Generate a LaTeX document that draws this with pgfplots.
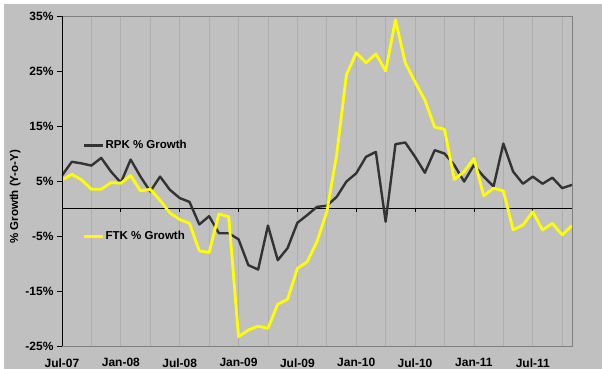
\documentclass[border=0pt]{standalone}
\usepackage{pgfplots}
\pgfplotsset{compat=1.18}
\usepackage{pgfplotstable}
\usepackage{fontspec}
\setmainfont{Liberation Sans}
\definecolor{bg}{HTML}{C0C0C0}
\definecolor{gridc}{HTML}{AEAEAE}
\definecolor{rpk}{HTML}{333333}
\definecolor{ftk}{HTML}{FFFF00}
\definecolor{framec}{HTML}{808080}

\pgfplotstableread{
i rpk ftk
0 6.0 5.2
1 8.5 6.2
2 8.2 5.2
3 7.8 3.5
4 9.2 3.5
5 6.7 4.7
6 4.7 4.6
7 8.9 6.0
8 5.8 3.2
9 3.1 3.5
10 5.8 1.5
11 3.4 -0.8
12 1.9 -2.0
13 1.2 -2.7
14 -2.9 -7.7
15 -1.4 -8.0
16 -4.5 -1.0
17 -4.5 -1.5
18 -5.6 -23.3
19 -10.3 -22.1
20 -11.1 -21.4
21 -3.1 -21.8
22 -9.4 -17.4
23 -7.2 -16.5
24 -2.6 -10.9
25 -1.2 -9.7
26 0.3 -6.0
27 0.5 -0.6
28 2.1 9.7
29 4.9 24.3
30 6.4 28.3
31 9.4 26.5
32 10.3 28.1
33 -2.4 25.0
34 11.7 34.3
35 12.0 26.5
36 9.4 23.0
37 6.5 19.7
38 10.6 14.8
39 10.0 14.4
40 7.9 5.3
41 4.9 6.7
42 7.9 9.1
43 5.8 2.3
44 4.0 3.7
45 11.8 3.2
46 6.7 -3.9
47 4.5 -3.0
48 5.8 -0.6
49 4.5 -3.9
50 5.6 -2.7
51 3.7 -4.8
52 4.3 -3.1
}\data

\begin{document}
\begin{tikzpicture}
\useasboundingbox (0pt,0pt) rectangle (602pt,369pt);
\fill[white] (0pt,0pt) rectangle (602pt,369pt);
\fill[bg] (4pt,0pt) rectangle (602pt,365pt);
\begin{axis}[
  at={(62pt,23pt)}, anchor=south west,
  scale only axis, width=510pt, height=330pt,
  xmin=0, xmax=52, ymin=-25, ymax=35,
  font=\bfseries\fontsize{12}{14}\selectfont,
  /pgf/number format/assume math mode=true,
  axis line style={draw=framec, line width=0.8pt},
  xtick={0,6,...,48},
  xticklabels={Jul-07,Jan-08,Jul-08,Jan-09,Jul-09,Jan-10,Jul-10,Jan-11,Jul-11},
  minor xtick={3,9,...,51},
  xmajorgrids, xminorgrids,
  major grid style={draw=gridc, line width=0.8pt},
  minor grid style={draw=gridc, line width=0.8pt},
  x tick style={draw=none},
  x tick label style={yshift=-4pt, font=\bfseries\fontsize{12}{14}\selectfont},
  y tick label style={font=\bfseries\fontsize{12}{14}\selectfont},
  ytick={-25,-15,...,35},
  yticklabel={\pgfmathprintnumber{\tick}\%},
  ytick pos=left,
  y tick style={draw=black, line width=0.8pt},
  tick align=outside,
  major tick length=5pt,
  ylabel={\% Growth (Y-o-Y)},
  ylabel style={at={(axis description cs:-0.092,0.452)}, anchor=center, font=\bfseries\fontsize{11.5}{13}\selectfont},
  legend style={at={(axis cs:2.1,12.6)}, anchor=north west, draw=none, fill=none,
    inner sep=0pt, row sep=79pt, font=\bfseries\fontsize{11.5}{13}\selectfont,
    nodes={inner sep=1pt, text height=8pt, text depth=2pt}},
  legend cell align=left,
  legend image code/.code={\draw[#1] (-2pt,0pt) -- (17pt,0pt);},
]
\draw[black, line width=0.8pt] (axis cs:0,0) -- (axis cs:52,0);
\pgfplotsinvokeforeach{0,6,...,48}{\draw[black, line width=0.8pt] (axis cs:#1,0) -- ++(0pt,-3pt);}
\addplot[rpk, line width=2.4pt, line join=round] table[x=i, y=rpk] {\data};
\addlegendentry{RPK \% Growth}
\addplot[ftk, line width=2.8pt, line join=round] table[x=i, y=ftk] {\data};
\addlegendentry{FTK \% Growth}
\draw[black, line width=0.9pt] (rel axis cs:0,0) -- (rel axis cs:0,1);
\end{axis}
\end{tikzpicture}
\end{document}
